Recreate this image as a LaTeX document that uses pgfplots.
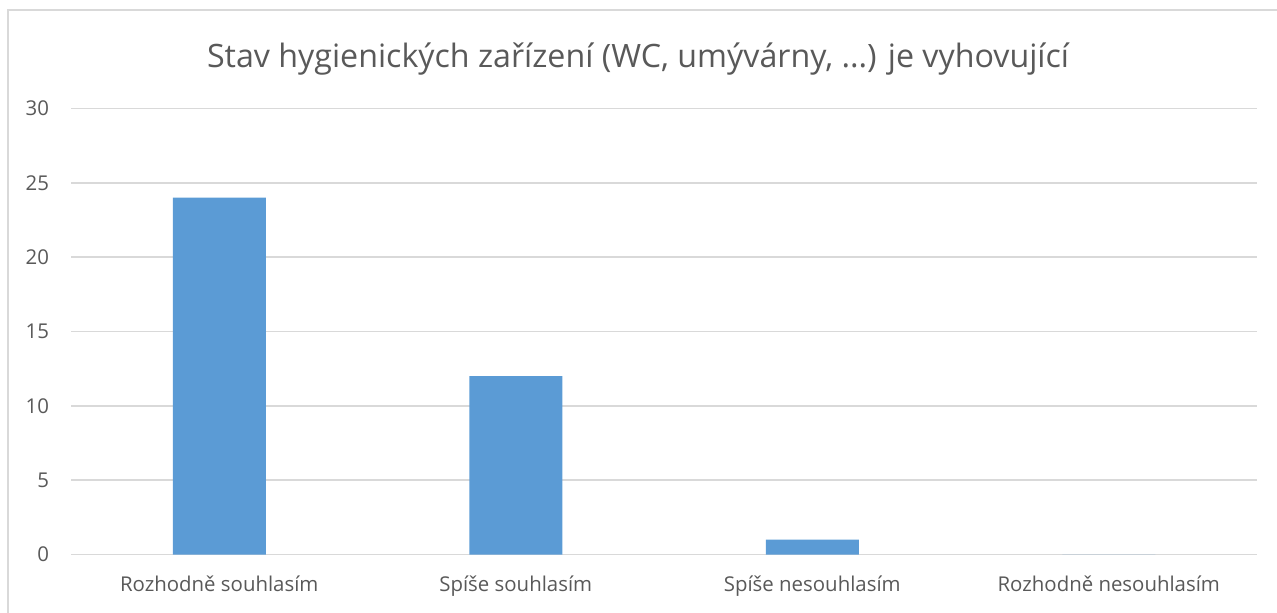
\documentclass[border=0pt]{standalone}
\usepackage{pgfplots}
\pgfplotsset{compat=1.18}
\usepackage{fontspec}
\setmainfont{Open Sans}
\definecolor{txt}{HTML}{595959}
\definecolor{gridc}{HTML}{D9D9D9}
\definecolor{barc}{HTML}{5B9BD5}
\begin{document}
\begin{tikzpicture}
\path[use as bounding box] (0pt,0pt) rectangle (638.5pt,306pt);
\draw[gridc,line width=1pt] (3.75pt,-3pt) -- (3.75pt,301pt) -- (645pt,301pt);
\node[txt,font=\fontsize{16.1}{19}\selectfont,anchor=base] at (319pt,272.5pt) {Stav hygienických zařízení (WC, umývárny, ...) je vyhovující};
\begin{axis}[
  at={(35.5pt,28.75pt)}, anchor=south west,
  scale only axis, width=593pt, height=223pt,
  xmin=-0.5, xmax=3.5, ymin=0, ymax=30,
  ytick={0,5,...,30},
  xtick={0,1,2,3},
  xticklabels={Rozhodně souhlasím,Spíše souhlasím,Spíše nesouhlasím,Rozhodně nesouhlasím},
  axis line style={draw=none},
  major tick length=0pt,
  ymajorgrids, xmajorgrids=false, grid style={draw=gridc,line width=0.75pt},
  ticklabel style={txt,font=\fontsize{10.2}{12}\selectfont},
  /pgf/number format/assume math mode=true,
  yticklabel style={xshift=-7.5pt},
  xticklabel style={yshift=-7pt},
  clip=false,
]
\addplot[ybar, bar width=46.5pt, fill=barc, draw=none] coordinates {(0,24) (1,12) (2,1) (3,0)};
\end{axis}
\end{tikzpicture}
\end{document}
